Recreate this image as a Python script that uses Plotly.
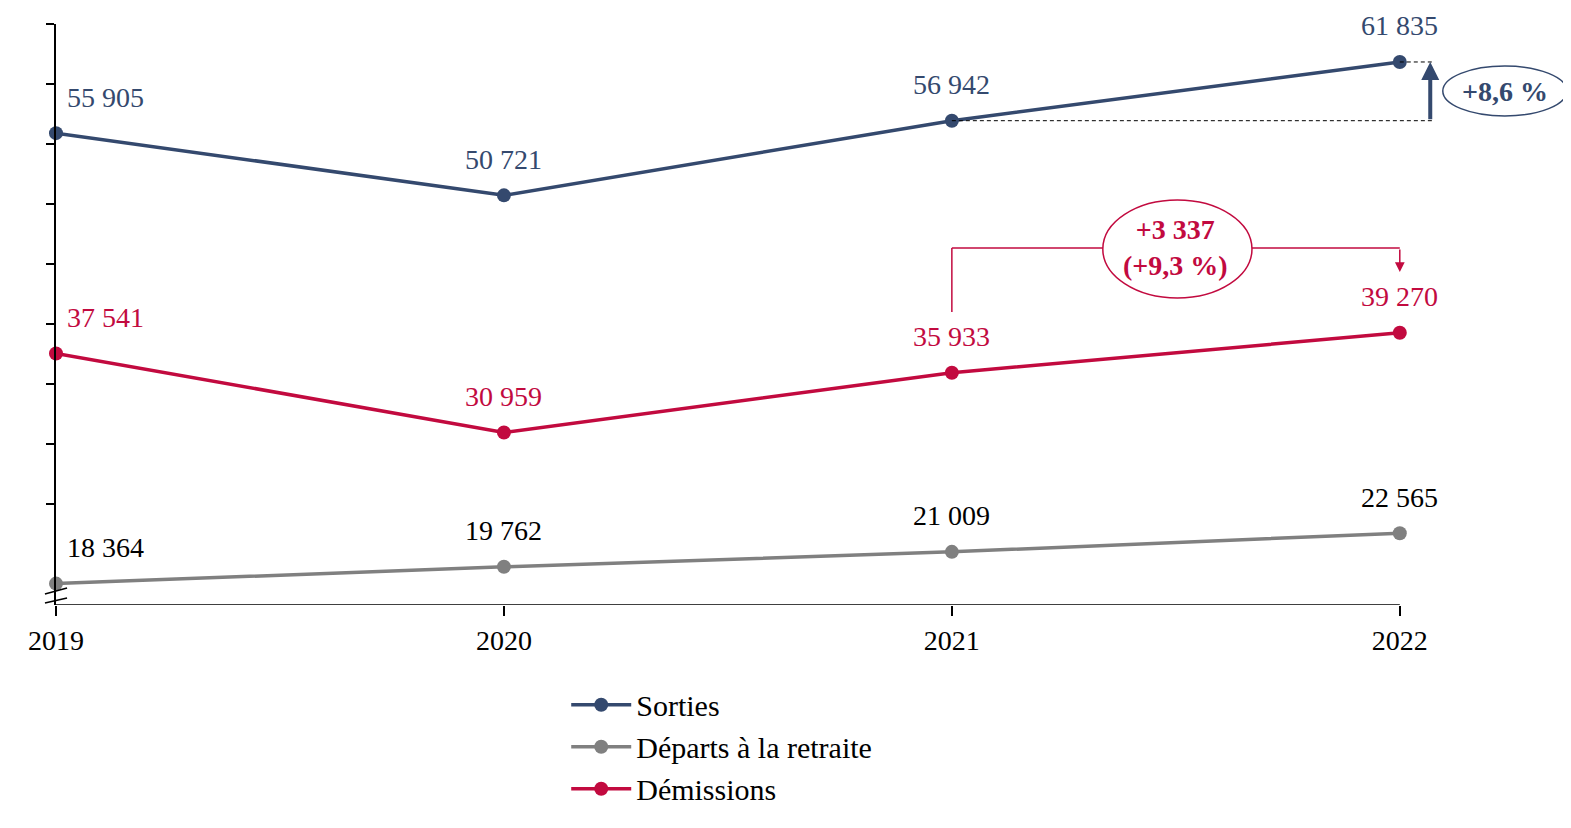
import plotly.graph_objects as go

years = [2019, 2020, 2021, 2022]
sorties = [55905, 50721, 56942, 61835]
departs = [18364, 19762, 21009, 22565]
demissions = [37541, 30959, 35933, 39270]

BLUE = '#34496e'
GREY = '#808080'
RED = '#c20a3f'
FONT = 'Palatino Linotype, Book Antiqua, Palatino, Liberation Serif, serif'
FS = 28

def fmt(v):
    return f'{v:,}'.replace(',', ' ')

fig = go.Figure()
series = [('Sorties', sorties, BLUE, BLUE),
          ('Départs à la retraite', departs, GREY, 'black'),
          ('Démissions', demissions, RED, RED)]
for name, vals, col, _ in series:
    fig.add_trace(go.Scatter(x=years, y=vals, name=name, mode='lines+markers',
                             line=dict(color=col, width=3.5), marker=dict(color=col, size=14),
                             cliponaxis=False))

# value labels
ann = []
for name, vals, col, tcol in series:
    for i, (x, v) in enumerate(zip(years, vals)):
        first = i == 0
        ann.append(dict(x=x, y=v, text=fmt(v), showarrow=False, yshift=36,
                        xanchor='left' if first else 'center', xshift=9 if first else 0,
                        font=dict(size=FS, color=tcol)))

# Sorties growth 2021 -> 2022
pct_s = (sorties[3] - sorties[2]) / sorties[2] * 100
xa = 2022.068
ann.append(dict(x=xa, y=sorties[3], ax=xa, ay=sorties[2], axref='x', ayref='y',
                xref='x', yref='y', showarrow=True, arrowhead=2, arrowsize=0.9,
                arrowwidth=4, arrowcolor=BLUE, text=''))
ann.append(dict(x=2022.235, y=(61500 + 57333) / 2, text=f'<b>+{pct_s:.1f} %</b>'.replace('.', ','),
                showarrow=False, font=dict(size=FS, color=BLUE)))

# Démissions growth
diff_d = demissions[3] - demissions[2]
pct_d = diff_d / demissions[2] * 100
ann.append(dict(x=2021.5, y=46333, text=f'<b>+{fmt(diff_d)}<br>(+{pct_d:.1f} %)</b>'.replace('.', ','),
                showarrow=False, font=dict(size=FS, color=RED)))
ann.append(dict(x=2022, y=44333, ax=2022, ay=46333, axref='x', ayref='y',
                xref='x', yref='y', showarrow=True, arrowhead=2, arrowsize=1.3,
                arrowwidth=1.5, arrowcolor=RED, text=''))

shapes = [
    # x axis baseline
    dict(type='line', x0=2019, x1=2022, y0=16580, y1=16580, line=dict(color='black', width=1.5)),
    # dashed guides
    dict(type='line', x0=2021, x1=2022.073, y0=sorties[2], y1=sorties[2],
         line=dict(color='black', width=1, dash='4px,3px')),
    dict(type='line', x0=2022, x1=2022.073, y0=sorties[3], y1=sorties[3],
         line=dict(color='black', width=1, dash='4px,3px')),
    dict(type='circle', x0=2022.096, x1=2022.373, y0=57333, y1=61500,
         line=dict(color=BLUE, width=1.5), fillcolor='rgba(0,0,0,0)'),
    # red bracket
    dict(type='line', x0=2021, x1=2021, y0=41000, y1=46333, line=dict(color=RED, width=1.5)),
    dict(type='line', x0=2021, x1=2022, y0=46333, y1=46333, line=dict(color=RED, width=1.5)),
    dict(type='circle', x0=2021.337, x1=2021.67, y0=42167, y1=50333,
         line=dict(color=RED, width=1.5), fillcolor='white', layer='above'),
    # axis break marks
    dict(type='line', xref='paper', yref='paper', x0=-0.0073, x1=0.0073, y0=0.0189, y1=0.0293,
         line=dict(color='black', width=1.5)),
    dict(type='line', xref='paper', yref='paper', x0=-0.0073, x1=0.0073, y0=0.0034, y1=0.012,
         line=dict(color='black', width=1.5)),
]

fig.update_layout(
    width=1563, height=820,
    margin=dict(l=48, r=1, t=16, b=223),
    plot_bgcolor='white', paper_bgcolor='white',
    font=dict(family=FONT, size=FS, color='black'),
    showlegend=True,
    legend=dict(x=0.337, y=-0.127, xanchor='left', yanchor='top', font=dict(size=30),
                itemwidth=60),
    annotations=ann, shapes=shapes,
)
fig.update_xaxes(range=[2019, 2022.38], tickvals=years, ticktext=[str(y) for y in years],
                 showgrid=False, zeroline=False, showline=False,
                 ticks='outside', ticklen=10, tickwidth=1.5, tickcolor='black',
                 tickfont=dict(size=FS, color='black'))
fig.update_yaxes(range=[16580, 65000], tickvals=list(range(25000, 65001, 5000)),
                 showticklabels=False, showgrid=False, zeroline=False,
                 showline=True, linecolor='black', linewidth=1.5,
                 ticks='outside', ticklen=8, tickwidth=2, tickcolor='black')

fig.write_html('out.html')
